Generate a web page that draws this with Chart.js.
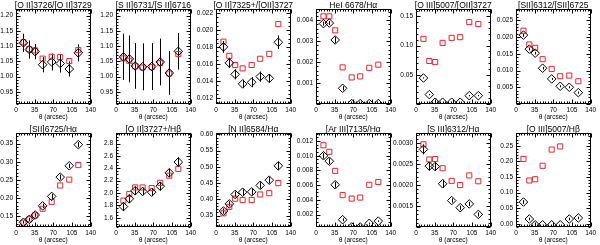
<!DOCTYPE html>
<html><head><meta charset="utf-8">
<script src="https://cdn.jsdelivr.net/npm/chart.js@4/dist/chart.umd.min.js"></script>
<style>
html,body{margin:0;padding:0;background:#fff;width:600px;height:245px;overflow:hidden;position:relative}
.c{position:absolute}
</style></head><body>
<script>
// ---------- data ----------
const theta = [14, 25, 36, 50, 67, 83, 100, 117];
const xTicks = [0, 35, 70, 105, 140];
const xLabelText = 'θ (arcsec)';

const titles = ['[O II]3726/[O II]3729', '[S II]6731/[S II]6716', '[O II]7325+/[OII]3727',
  'HeI 6678/Hα', '[O III]5007/[OII]3727', '[SII]6312/[SII]6725',
  '[SII]6725/Hα', '[O II]3727+/Hβ', '[N II]6584/Hα',
  '[Ar III]7135/Hα', '[S III]6312/Hα', '[O III]5007/Hβ'];

const oii3726Obs = [1.111, 1.089, 1.082, 1.039, 1.048, 1.043, 1.025, 1.078];
const oii3726Err = [0.030, 0.030, 0.025, 0.025, 0.028, 0.030, 0.025, 0.028];
const oii3726Mod = [1.113, 1.090, 1.086, 1.059, 1.065, 1.064, 1.051, 1.087];
const oii3726Ticks = [0.95, 1.00, 1.05, 1.10, 1.15, 1.20];
const oii3726Labels = ['0.95', '1.00', '1.05', '1.10', '1.15', '1.20'];

const sii6731Obs = [1.065, 1.058, 1.035, 1.032, 1.033, 1.048, 1.012, 1.083];
const sii6731Err = [0.076, 0.077, 0.075, 0.077, 0.077, 0.077, 0.072, 0.060];
const sii6731Mod = [1.060, 1.052, 1.034, 1.030, 1.031, 1.044, 1.010, 1.074];
const sii6731Ticks = [0.95, 1.00, 1.05, 1.10, 1.15, 1.20];
const sii6731Labels = ['0.95', '1.00', '1.05', '1.10', '1.15', '1.20'];

const oii7325Obs = [0.01803, 0.01615, 0.01480, 0.01367, 0.01387, 0.01453, 0.01433, 0.01858];
const oii7325Err = [0.0007, 0.0006, 0.0006, 0.0005, 0.0006, 0.0006, 0.0005, 0.0008];
const oii7325Mod = [0.01865, 0.01698, 0.01589, 0.01550, 0.01590, 0.01663, 0.01721, 0.02072];
const oii7325Ticks = [0.012, 0.014, 0.016, 0.018, 0.020, 0.022];
const oii7325Labels = ['0.012', '0.014', '0.016', '0.018', '0.020', '0.022'];

const hei6678Obs = [0.00384, 0.00387, 0.00306, 0.00075, 0.00002, 0.00002, 0.00002, 0.00002];
const hei6678Err = [0.0001, 0.0001, 0.00015, 0.0001, 0, 0, 0, 0];
const hei6678Mod = [0.00419, 0.00419, 0.00352, 0.00175, 0.00127, 0.00132, 0.00173, 0.00188];
const hei6678Ticks = [0.001, 0.002, 0.003, 0.004];
const hei6678Labels = ['0.001', '0.002', '0.003', '0.004'];

const oiii5007oiiObs = [0.0445, 0.0161, 0.0030, 0.0030, 0.0030, 0.0030, 0.0143, 0.0143];
const oiii5007oiiErr = [0.001, 0.001, 0, 0, 0, 0, 0.001, 0.001];
const oiii5007oiiMod = [0.1115, 0.0736, 0.0718, 0.1046, 0.1132, 0.1144, 0.1402, 0.1368];
const oiii5007oiiTicks = [0.05, 0.10, 0.15];
const oiii5007oiiLabels = ['0.05', '0.10', '0.15'];

const sii6312Obs = [0.0206, 0.0164, 0.0152, 0.0107, 0.0075, 0.0053, 0.0050, 0.0034];
const sii6312Err = [0.0005, 0.0004, 0.0004, 0.0004, 0.0003, 0.0003, 0.0003, 0.0003];
const sii6312Mod = [0.0219, 0.0178, 0.0168, 0.0134, 0.0105, 0.0083, 0.0085, 0.0068];
const sii6312Ticks = [0.005, 0.010, 0.015, 0.020, 0.025];
const sii6312Labels = ['0.005', '0.010', '0.015', '0.020', '0.025'];

const sii6725Obs = [0.134, 0.142, 0.154, 0.179, 0.205, 0.258, 0.289, 0.347];
const sii6725Err = [0.004, 0.004, 0.005, 0.006, 0.007, 0.007, 0.006, 0.007];
const sii6725Mod = [0.133, 0.142, 0.153, 0.171, 0.190, 0.235, 0.251, 0.291];
const sii6725Ticks = [0.15, 0.20, 0.25, 0.30, 0.35];
const sii6725Labels = ['0.15', '0.20', '0.25', '0.30', '0.35'];

const oii3727hbObs = [1.78, 1.906, 2.036, 2.025, 2.013, 2.11, 2.325, 2.50];
const oii3727hbErr = [0.07, 0.07, 0.07, 0.06, 0.06, 0.07, 0.07, 0.08];
const oii3727hbMod = [1.877, 1.984, 2.09, 2.09, 2.08, 2.165, 2.28, 2.39];
const oii3727hbTicks = [1.6, 1.8, 2.0, 2.2, 2.4, 2.6, 2.8];
const oii3727hbLabels = ['1.6', '1.8', '2.0', '2.2', '2.4', '2.6', '2.8'];

const nii6584Obs = [0.364, 0.386, 0.415, 0.422, 0.423, 0.443, 0.459, 0.503];
const nii6584Err = [0.008, 0.008, 0.009, 0.009, 0.009, 0.010, 0.010, 0.012];
const nii6584Mod = [0.357, 0.377, 0.402, 0.398, 0.398, 0.415, 0.419, 0.450];
const nii6584Ticks = [0.35, 0.40, 0.45, 0.50, 0.55, 0.60];
const nii6584Labels = ['0.35', '0.40', '0.45', '0.50', '0.55', '0.60'];

const ariii7135Obs = [0.0100, 0.00926, 0.00605, 0.00129, 0.0003, 0.0003, 0.0008, 0.0011];
const ariii7135Err = [0.0004, 0.0004, 0.0004, 0.0002, 0, 0, 0.0001, 0.0001];
const ariii7135Mod = [0.01143, 0.01054, 0.00794, 0.00464, 0.00417, 0.00431, 0.00605, 0.00643];
const ariii7135Ticks = [0.002, 0.004, 0.006, 0.008, 0.010, 0.012];
const ariii7135Labels = ['0.002', '0.004', '0.006', '0.008', '0.010', '0.012'];

const siii6312Obs = [0.00285, 0.00245, 0.00244, 0.00203, 0.00163, 0.00146, 0.00155, 0.00130];
const siii6312Err = [0.00012, 0.0001, 0.0001, 0.0001, 0.00005, 0.00005, 0.00005, 0.00005];
const siii6312Mod = [0.00297, 0.00261, 0.00262, 0.00240, 0.00210, 0.00200, 0.00223, 0.00209];
const siii6312Ticks = [0.0015, 0.0020, 0.0025, 0.0030];
const siii6312Labels = ['0.0015', '0.0020', '0.0025', '0.0030'];

const oiii5007hbObs = [0.070, 0.0156, -0.003, -0.003, -0.003, -0.003, 0.0156, 0.019];
const oiii5007hbErr = [0.006, 0.004, 0, 0, 0, 0, 0.004, 0.004];
const oiii5007hbMod = [0.208, 0.139, 0.143, 0.186, 0.238, 0.248];
const oiii5007hbTicks = [0.00, 0.05, 0.10, 0.15, 0.20, 0.25];
const oiii5007hbLabels = ['0.00', '0.05', '0.10', '0.15', '0.20', '0.25'];

// ---------- panel setup ----------
const panels = [
  {obs: oii3726Obs, err: oii3726Err, mod: oii3726Mod, ticks: oii3726Ticks, labels: oii3726Labels, min: 0.91, max: 1.222, minor: 5},
  {obs: sii6731Obs, err: sii6731Err, mod: sii6731Mod, ticks: sii6731Ticks, labels: sii6731Labels, min: 0.91, max: 1.222, minor: 5},
  {obs: oii7325Obs, err: oii7325Err, mod: oii7325Mod, ticks: oii7325Ticks, labels: oii7325Labels, min: 0.0113, max: 0.0225, minor: 4},
  {obs: hei6678Obs, err: hei6678Err, mod: hei6678Mod, ticks: hei6678Ticks, labels: hei6678Labels, min: 0, max: 0.00454, minor: 5},
  {obs: oiii5007oiiObs, err: oiii5007oiiErr, mod: oiii5007oiiMod, ticks: oiii5007oiiTicks, labels: oiii5007oiiLabels, min: 0, max: 0.1626, minor: 5},
  {obs: sii6312Obs, err: sii6312Err, mod: sii6312Mod, ticks: sii6312Ticks, labels: sii6312Labels, min: 0, max: 0.0284, minor: 5},
  {obs: sii6725Obs, err: sii6725Err, mod: sii6725Mod, ticks: sii6725Ticks, labels: sii6725Labels, min: 0.121, max: 0.379, minor: 5},
  {obs: oii3727hbObs, err: oii3727hbErr, mod: oii3727hbMod, ticks: oii3727hbTicks, labels: oii3727hbLabels, min: 1.45, max: 2.97, minor: 4},
  {obs: nii6584Obs, err: nii6584Err, mod: nii6584Mod, ticks: nii6584Ticks, labels: nii6584Labels, min: 0.315, max: 0.604, minor: 5},
  {obs: ariii7135Obs, err: ariii7135Err, mod: ariii7135Mod, ticks: ariii7135Ticks, labels: ariii7135Labels, min: 0.0003, max: 0.0131, minor: 4},
  {obs: siii6312Obs, err: siii6312Err, mod: siii6312Mod, ticks: siii6312Ticks, labels: siii6312Labels, min: 0.0010, max: 0.00324, minor: 5},
  {obs: oiii5007hbObs, err: oiii5007hbErr, mod: oiii5007hbMod, ticks: oiii5007hbTicks, labels: oiii5007hbLabels, min: -0.01, max: 0.291, minor: 5}
];

const FONT = "'Liberation Sans', Arial, sans-serif";
const tickFont = {family: FONT, size: 6.5};
const RED = '#e8262a';

const framePlugin = {
  id: 'frame',
  beforeDatasetsDraw(chart) {
    const p = chart.options.plugins.frame.panel;
    const {ctx, chartArea: a} = chart;
    const xs = chart.scales.x, ys = chart.scales.y;
    ctx.save();
    ctx.beginPath(); ctx.rect(a.left, a.top, a.right - a.left, a.bottom - a.top); ctx.clip();
    ctx.strokeStyle = '#000'; ctx.lineWidth = 1;
    p.obs.forEach((v, k) => {
      const e = p.err[k];
      if (!e) return;
      const x = Math.round(xs.getPixelForValue(theta[k])) + 0.5;
      ctx.beginPath();
      ctx.moveTo(x, ys.getPixelForValue(v - e));
      ctx.lineTo(x, ys.getPixelForValue(v + e));
      ctx.stroke();
    });
    ctx.restore();
  },
  afterDraw(chart) {
    const opts = chart.options.plugins.frame;
    const p = opts.panel;
    const {ctx, chartArea: a} = chart;
    const xs = chart.scales.x, ys = chart.scales.y;
    const L = Math.round(a.left) + 0.5, R = Math.round(a.right) - 0.5;
    const T = Math.round(a.top) + 0.5, B = Math.round(a.bottom) - 0.5;
    ctx.save();
    ctx.strokeStyle = '#000'; ctx.lineWidth = 1;
    ctx.strokeRect(L, T, R - L, B - T);
    const MAJ = 4, MIN = 2;
    ctx.beginPath();
    // x ticks
    for (let i = 0; i < xTicks.length; i++) {
      const x = Math.round(xs.getPixelForValue(xTicks[i])) + 0.5;
      ctx.moveTo(x, B); ctx.lineTo(x, B - MAJ);
      ctx.moveTo(x, T); ctx.lineTo(x, T + MAJ);
      if (i < xTicks.length - 1) {
        const st = (xTicks[i + 1] - xTicks[i]) / 7;
        for (let j = 1; j < 7; j++) {
          const xm = Math.round(xs.getPixelForValue(xTicks[i] + j * st)) + 0.5;
          ctx.moveTo(xm, B); ctx.lineTo(xm, B - MIN);
          ctx.moveTo(xm, T); ctx.lineTo(xm, T + MIN);
        }
      }
    }
    // y ticks
    const step = (p.ticks[1] - p.ticks[0]) / p.minor;
    const t0 = p.ticks[0];
    for (let j = -40; j < 200; j++) {
      const v = t0 + j * step;
      if (v < p.min - 1e-12 || v > p.max + 1e-12) continue;
      const y = Math.round(ys.getPixelForValue(v)) + 0.5;
      const major = ((j % p.minor) + p.minor) % p.minor === 0;
      const len = major ? MAJ : MIN;
      ctx.moveTo(L, y); ctx.lineTo(L + len, y);
      ctx.moveTo(R, y); ctx.lineTo(R - len, y);
    }
    ctx.stroke();
    // title
    ctx.fillStyle = '#000';
    ctx.font = `8.5px ${FONT}`;
    ctx.textAlign = 'center';
    ctx.textBaseline = 'alphabetic';
    ctx.fillText(opts.title, (a.left + a.right) / 2, a.top - 1);
    ctx.restore();
  }
};

panels.forEach((p, i) => {
  const row = Math.floor(i / 6), col = i % 6;
  const boxLeft = 16 + col * 100;
  const boxW = 77;
  const rowTop = row === 0 ? 0 : 122;
  const H = row === 0 ? 122 : 123;
  const boxTop = row === 0 ? 9 : 133;
  const boxBottom = row === 0 ? 104 : 227;
  const W = 112;
  const div = document.createElement('div');
  div.className = 'c';
  div.style.left = (boxLeft - 30) + 'px';
  div.style.top = rowTop + 'px';
  div.style.width = W + 'px';
  div.style.height = H + 'px';
  const cv = document.createElement('canvas');
  cv.width = W; cv.height = H;
  div.appendChild(cv);
  document.body.appendChild(div);
  const xAxisH = rowTop + H - boxBottom;
  new Chart(cv, {
    type: 'scatter',
    data: {
      datasets: [
        {data: p.obs.map((y, k) => ({x: theta[k], y})), pointStyle: 'rectRot', pointRadius: 4.3,
          borderColor: '#000', backgroundColor: 'rgba(0,0,0,0)', borderWidth: 1, clip: 0},
        {data: p.mod.map((y, k) => ({x: theta[k], y})), pointStyle: 'rect', pointRadius: 3.6,
          borderColor: RED, backgroundColor: 'rgba(0,0,0,0)', borderWidth: 1, clip: 0}
      ]
    },
    options: {
      responsive: false,
      animation: false,
      events: [],
      devicePixelRatio: 1,
      layout: {padding: {left: 2, right: W - 30 - boxW, top: boxTop - rowTop, bottom: 0}, autoPadding: false},
      plugins: {legend: {display: false}, tooltip: {enabled: false}, title: {display: false},
        frame: {panel: p, title: titles[i]}},
      scales: {
        x: {
          type: 'linear', min: 0, max: 140,
          afterBuildTicks: s => { s.ticks = xTicks.map(v => ({value: v})); },
          afterFit: s => { s.height = xAxisH; },
          grid: {display: false, drawTicks: false},
          border: {display: false},
          ticks: {font: tickFont, color: '#000', padding: 2, maxRotation: 0, autoSkip: false,
            callback: v => String(v)},
          title: {display: true, text: xLabelText, font: tickFont, color: '#000', padding: {top: 0, bottom: 1}}
        },
        y: {
          type: 'linear', min: p.min, max: p.max,
          afterBuildTicks: s => { s.ticks = p.ticks.map(v => ({value: v})); },
          afterFit: s => { s.width = 28; },
          grid: {display: false, drawTicks: false},
          border: {display: false},
          ticks: {font: tickFont, color: '#000', padding: 3, autoSkip: false,
            callback: (v, k) => p.labels[k]}
        }
      }
    },
    plugins: [framePlugin]
  });
});
</script>
</body></html>
